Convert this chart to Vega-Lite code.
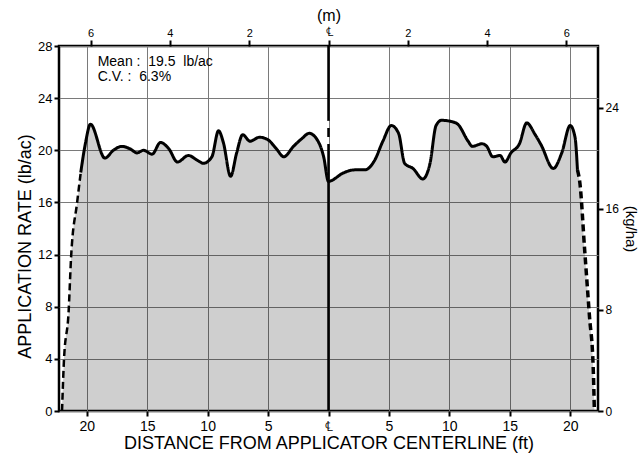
{
  "$schema": "https://vega.github.io/schema/vega-lite/v6.json",
  "width": 539,
  "height": 365,
  "autosize": "none",
  "padding": {"left": 59, "top": 46, "right": 43, "bottom": 49},
  "background": "white",
  "config": {
    "view": {"stroke": "black", "strokeWidth": 2.5},
    "font": "Liberation Sans",
    "axis": {
      "domain": false,
      "tickColor": "black",
      "tickWidth": 2,
      "tickSize": 5,
      "labelColor": "black",
      "titleColor": "black",
      "labelFont": "Liberation Sans",
      "titleFont": "Liberation Sans",
      "titleFontWeight": "normal",
      "gridColor": "#7a7a7a",
      "gridWidth": 1,
      "gridOpacity": 1
    }
  },
  "datasets": {
    "profile": [
      {"ft": -22.05, "rate": 0, "seg": "left"},
      {"ft": -21.9, "rate": 3.7, "seg": "left"},
      {"ft": -21.5, "rate": 7.7, "seg": "left"},
      {"ft": -21.3, "rate": 11.8, "seg": "left"},
      {"ft": -20.8, "rate": 16.0, "seg": "left"},
      {"ft": -20.5, "rate": 18.3, "seg": "left"},
      {"ft": -20.5, "rate": 18.3, "seg": "measured"},
      {"ft": -20.1, "rate": 20.6, "seg": "measured"},
      {"ft": -19.7, "rate": 22.0, "seg": "measured"},
      {"ft": -18.5, "rate": 19.4, "seg": "measured"},
      {"ft": -17.8, "rate": 20.0, "seg": "measured"},
      {"ft": -17.1, "rate": 20.3, "seg": "measured"},
      {"ft": -16.4, "rate": 20.1, "seg": "measured"},
      {"ft": -15.85, "rate": 19.8, "seg": "measured"},
      {"ft": -15.3, "rate": 20.0, "seg": "measured"},
      {"ft": -14.6, "rate": 19.7, "seg": "measured"},
      {"ft": -13.9, "rate": 20.6, "seg": "measured"},
      {"ft": -13.2, "rate": 20.1, "seg": "measured"},
      {"ft": -12.5, "rate": 19.1, "seg": "measured"},
      {"ft": -11.6, "rate": 19.6, "seg": "measured"},
      {"ft": -10.8, "rate": 19.2, "seg": "measured"},
      {"ft": -10.35, "rate": 19.0, "seg": "measured"},
      {"ft": -9.65, "rate": 19.5, "seg": "measured"},
      {"ft": -9.1, "rate": 21.5, "seg": "measured"},
      {"ft": -8.7, "rate": 20.6, "seg": "measured"},
      {"ft": -8.1, "rate": 18.0, "seg": "measured"},
      {"ft": -7.6, "rate": 19.8, "seg": "measured"},
      {"ft": -7.1, "rate": 21.2, "seg": "measured"},
      {"ft": -6.5, "rate": 20.7, "seg": "measured"},
      {"ft": -5.7, "rate": 21.0, "seg": "measured"},
      {"ft": -5.0, "rate": 20.8, "seg": "measured"},
      {"ft": -4.3, "rate": 20.1, "seg": "measured"},
      {"ft": -3.7, "rate": 19.5, "seg": "measured"},
      {"ft": -2.9, "rate": 20.3, "seg": "measured"},
      {"ft": -2.2, "rate": 20.9, "seg": "measured"},
      {"ft": -1.6, "rate": 21.3, "seg": "measured"},
      {"ft": -1.0, "rate": 20.9, "seg": "measured"},
      {"ft": -0.4, "rate": 19.5, "seg": "measured"},
      {"ft": 0.0, "rate": 17.6, "seg": "measured"},
      {"ft": 0.3, "rate": 17.7, "seg": "measured"},
      {"ft": 1.1, "rate": 18.2, "seg": "measured"},
      {"ft": 2.2, "rate": 18.5, "seg": "measured"},
      {"ft": 3.0, "rate": 18.5, "seg": "measured"},
      {"ft": 3.8, "rate": 19.2, "seg": "measured"},
      {"ft": 4.5, "rate": 20.7, "seg": "measured"},
      {"ft": 5.2, "rate": 21.9, "seg": "measured"},
      {"ft": 5.8, "rate": 21.3, "seg": "measured"},
      {"ft": 6.3, "rate": 19.0, "seg": "measured"},
      {"ft": 7.0, "rate": 18.6, "seg": "measured"},
      {"ft": 7.8, "rate": 17.8, "seg": "measured"},
      {"ft": 8.4, "rate": 19.0, "seg": "measured"},
      {"ft": 8.9, "rate": 21.9, "seg": "measured"},
      {"ft": 9.35, "rate": 22.3, "seg": "measured"},
      {"ft": 10.2, "rate": 22.2, "seg": "measured"},
      {"ft": 10.7, "rate": 22.0, "seg": "measured"},
      {"ft": 11.55, "rate": 20.7, "seg": "measured"},
      {"ft": 11.9, "rate": 20.3, "seg": "measured"},
      {"ft": 12.7, "rate": 20.5, "seg": "measured"},
      {"ft": 13.1, "rate": 20.3, "seg": "measured"},
      {"ft": 13.6, "rate": 19.5, "seg": "measured"},
      {"ft": 14.2, "rate": 19.6, "seg": "measured"},
      {"ft": 14.6, "rate": 19.1, "seg": "measured"},
      {"ft": 15.1, "rate": 19.8, "seg": "measured"},
      {"ft": 15.8, "rate": 20.5, "seg": "measured"},
      {"ft": 16.4, "rate": 22.1, "seg": "measured"},
      {"ft": 17.1, "rate": 21.2, "seg": "measured"},
      {"ft": 17.6, "rate": 20.4, "seg": "measured"},
      {"ft": 18.6, "rate": 18.6, "seg": "measured"},
      {"ft": 19.3, "rate": 19.8, "seg": "measured"},
      {"ft": 20.0, "rate": 21.9, "seg": "measured"},
      {"ft": 20.4, "rate": 21.0, "seg": "measured"},
      {"ft": 20.6, "rate": 18.5, "seg": "measured"},
      {"ft": 20.6, "rate": 18.5, "seg": "right"},
      {"ft": 20.8, "rate": 17.5, "seg": "right"},
      {"ft": 21.2, "rate": 12.3, "seg": "right"},
      {"ft": 21.6, "rate": 7.2, "seg": "right"},
      {"ft": 21.9, "rate": 3.4, "seg": "right"},
      {"ft": 22.0, "rate": 0, "seg": "right"}
    ]
  },
  "layer": [
    {
      "data": {"name": "profile"},
      "transform": [
        {"filter": "!(datum.seg == 'left' && datum.ft == -20.5) && !(datum.seg == 'right' && datum.ft == 20.6)"}
      ],
      "mark": {"type": "area", "interpolate": "monotone", "color": "black", "fillOpacity": 0.19},
      "encoding": {
        "x": {
          "field": "ft", "type": "quantitative",
          "scale": {"domain": [-22.3, 22.3], "nice": false, "zero": false},
          "axis": {
            "orient": "bottom",
            "title": "DISTANCE FROM APPLICATOR CENTERLINE (ft)",
            "titleFontSize": 18,
            "titlePadding": 1,
            "values": [-20, -15, -10, -5, 0, 5, 10, 15, 20],
            "labelExpr": "datum.value == 0 ? '℄' : format(abs(datum.value), 'd')",
            "labelFontSize": 14,
            "labelPadding": 3,
            "grid": true
          }
        },
        "y": {
          "field": "rate", "type": "quantitative",
          "scale": {"domain": [0, 28], "nice": false},
          "axis": {
            "orient": "left",
            "title": "APPLICATION RATE (lb/ac)",
            "titleFontSize": 18,
            "titlePadding": 3,
            "titleY": 200,
            "values": [0, 4, 8, 12, 16, 20, 24, 28],
            "labelFontSize": 13,
            "labelPadding": 2,
            "grid": true
          }
        }
      }
    },
    {
      "data": {"name": "profile"},
      "mark": {"type": "line", "interpolate": "monotone", "color": "black"},
      "encoding": {
        "x": {
          "field": "ft", "type": "quantitative",
          "scale": {"domain": [-22.3, 22.3], "nice": false, "zero": false},
          "axis": {
            "orient": "top",
            "title": "(m)",
            "titleFontSize": 16,
            "titlePadding": 2,
            "values": [-19.685, -13.123, -6.562, 0, 6.562, 13.123, 19.685],
            "labelExpr": "datum.value == 0 ? '℄' : format(abs(datum.value) * 0.3048, '.0f')",
            "labelFontSize": {"condition": {"test": "datum.value == 0", "value": 13}, "value": 11},
            "labelPadding": 2,
            "tickSize": 6,
            "grid": false
          }
        },
        "y": {
          "field": "rate", "type": "quantitative",
          "scale": {"domain": [0, 28], "nice": false},
          "axis": {
            "orient": "right",
            "title": "(kg/ha)",
            "titleFontSize": 15,
            "titlePadding": 4,
            "values": [0, 7.76, 15.52, 23.28],
            "labelExpr": "format(datum.value / 0.97, '.0f')",
            "labelFontSize": 12,
            "labelPadding": 2,
            "grid": false
          }
        },
        "detail": {"field": "seg"},
        "strokeDash": {
          "field": "seg", "type": "nominal",
          "scale": {"domain": ["left", "measured", "right"], "range": [[7, 4], [1, 0], [7, 4]]},
          "legend": null
        },
        "strokeWidth": {
          "field": "seg", "type": "nominal",
          "scale": {"domain": ["left", "measured", "right"], "range": [2.5, 3.5, 2.5]},
          "legend": null
        }
      }
    },
    {
      "data": {"values": [{"ft": 0, "lo": 0, "hi": 19.8}, {"ft": 0, "lo": 22.3, "hi": 28}]},
      "mark": {"type": "rule", "color": "black", "strokeWidth": 2.5},
      "encoding": {
        "x": {"field": "ft", "type": "quantitative", "axis": null},
        "y": {"field": "lo", "type": "quantitative", "axis": null},
        "y2": {"field": "hi"}
      }
    },
    {
      "data": {"values": [{"ft": 0, "lo": 19.8, "hi": 22.3}]},
      "mark": {"type": "rule", "color": "black", "strokeWidth": 2.5, "strokeDash": [9, 7]},
      "encoding": {
        "x": {"field": "ft", "type": "quantitative", "axis": null},
        "y": {"field": "lo", "type": "quantitative", "axis": null},
        "y2": {"field": "hi"}
      }
    },
    {
      "data": {"values": [{"ft": -19.1, "rate": 26.8, "label": "Mean :\u00a0 19.5\u00a0 lb/ac"}, {"ft": -19.1, "rate": 25.6, "label": "C.V. :\u00a0 6.3%"}]},
      "mark": {"type": "text", "align": "left", "baseline": "middle", "fontSize": 14, "font": "Liberation Sans", "color": "black"},
      "encoding": {
        "x": {"field": "ft", "type": "quantitative", "axis": null},
        "y": {"field": "rate", "type": "quantitative", "axis": null},
        "text": {"field": "label"}
      }
    }
  ],
  "resolve": {"axis": {"x": "independent", "y": "independent"}}
}
